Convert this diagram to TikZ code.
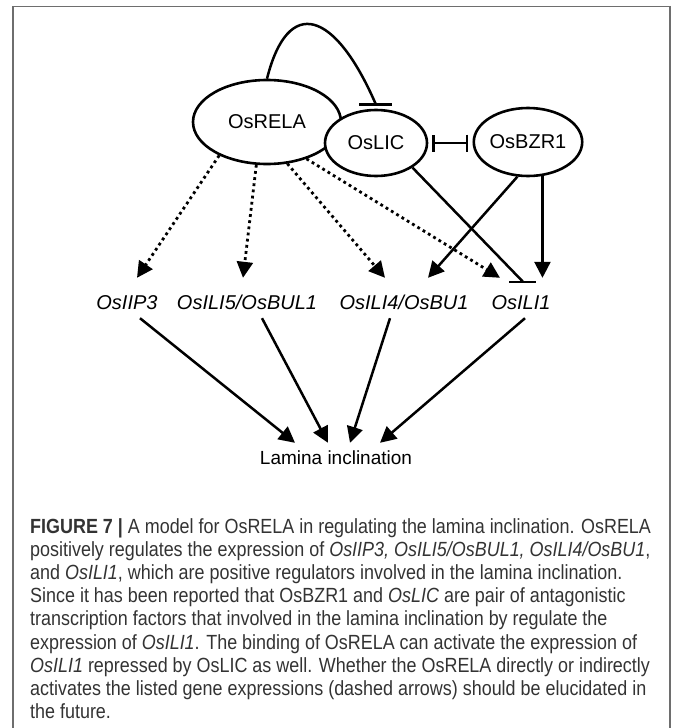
\documentclass[tikz,border=0pt]{standalone}
\usepackage{fontspec}
\setmainfont{Liberation Sans}
\newfontfamily\capfont[FakeStretch=0.875]{Liberation Sans}
\usetikzlibrary{shapes.geometric,arrows.meta,calc}
\definecolor{frameclr}{HTML}{6E6E6E}
\definecolor{captxt}{HTML}{333333}
\begin{document}
\begin{tikzpicture}[x=1pt,y=-1pt,
  ell/.style={ellipse,draw,line width=2.6pt,fill=white,inner sep=0pt,font=\fontsize{20}{24}\selectfont},
  lab/.style={font=\fontsize{20}{24}\selectfont\itshape,text height=22pt,text depth=4pt,inner ysep=9pt,inner xsep=1pt},
  conn/.style={line width=2.5pt},
  act/.style={conn,-{Triangle[length=16pt,width=16pt]}},
  dotarrow/.style={act,line width=2.8pt,dash pattern=on 2.8pt off 3.4pt},
  inhboth/.style={conn,{Bar[width=17pt]}-{Bar[width=17pt]},shorten <=4pt,shorten >=4pt},
  frameline/.style={draw=frameclr}
]
\useasboundingbox (0,0) rectangle (672,728);
% frame
\draw[frameline,line width=1.2pt] (13,728) -- (13,6.5);
\draw[frameline,line width=1.5pt] (12.4,6.5) -- (670,6.5);
\draw[frameline,line width=2pt] (670,5.8) -- (670,728);

% nodes
\node[ell,minimum width=148pt,minimum height=84pt] (RELA) at (267,122) {OsRELA};
\node[ell,minimum width=102pt,minimum height=66pt] (LIC) at (376,143) {OsLIC};
\node[ell,minimum width=100pt,minimum height=68pt] (BZR1) at (528,142) {OsBZR1};

\node[lab,anchor=base] (IIP3) at (127,309) {OsIIP3};
\node[lab,anchor=base] (ILI5) at (247,309) {OsILI5/OsBUL1};
\node[lab,anchor=base] (ILI4) at (404,309) {OsILI4/OsBU1};
\node[lab,anchor=base] (ILI1) at (521,309) {OsILI1};
\node[font=\fontsize{19}{23}\selectfont,text height=14pt,text depth=4pt,inner ysep=7pt,anchor=base] (LAM) at (336,464) {Lamina inclination};

% OsRELA -| OsLIC curve
\draw[conn] (RELA.north) .. controls (288,-5) and (335,10) .. ([yshift=4pt]LIC.north) coordinate (b1);
\draw[conn] ([xshift=-17pt]b1) -- ([xshift=16pt]b1);

% OsLIC |-| OsBZR1
\draw[inhboth] (LIC.east) -- (LIC.east -| BZR1.west);

% dotted arrows
\draw[dotarrow] (RELA.215) -- ([xshift=10pt]IIP3.north);
\draw[dotarrow] (RELA.256) -- ([xshift=-4pt]ILI5.north);
\draw[dotarrow] (RELA.296) -- ([xshift=-19pt]ILI4.north);
\draw[dotarrow] (RELA.317) -- ([xshift=-21pt]ILI1.north);

% OsBZR1 arrows
\draw[act] (BZR1.253) -- ([xshift=24pt]ILI4.north);
\draw[act] (BZR1.293) -- (BZR1.293 |- ILI1.north);

% OsLIC -| OsILI1
\draw[conn] (LIC.326) -- ([xshift=2pt,yshift=-4pt]ILI1.north) coordinate (b2);
\draw[conn] ([xshift=-14pt]b2) -- ([xshift=13pt]b2);

% to lamina inclination
\draw[act] ([xshift=13pt,yshift=4pt]IIP3.south) -- ([xshift=-41pt]LAM.north);
\draw[act] ([xshift=15pt,yshift=4pt]ILI5.south) -- ([xshift=-8pt]LAM.north);
\draw[act] ([xshift=-14pt,yshift=4pt]ILI4.south) -- ([xshift=14pt]LAM.north);
\draw[act] ([xshift=4pt,yshift=4pt]ILI1.south) -- ([xshift=44pt]LAM.north);

% caption
\node[anchor=north west,inner sep=0pt,align=left,text=captxt,font=\capfont\fontsize{20.5}{23.2}\selectfont] (cap) at (30,518) {%
\textbf{FIGURE 7 |} A model for OsRELA in regulating the lamina inclination. OsRELA\\
positively regulates the expression of \textit{OsIIP3, OsILI5/OsBUL1, OsILI4/OsBU1},\\
and \textit{OsILI1}, which are positive regulators involved in the lamina inclination.\\
Since it has been reported that OsBZR1 and \textit{OsLIC} are pair of antagonistic\\
transcription factors that involved in the lamina inclination by regulate the\\
expression of \textit{OsILI1}. The binding of OsRELA can activate the expression of\\
\textit{OsILI1} repressed by OsLIC as well. Whether the OsRELA directly or indirectly\\
activates the listed gene expressions (dashed arrows) should be elucidated in\\
the future.};
\end{tikzpicture}
\end{document}
